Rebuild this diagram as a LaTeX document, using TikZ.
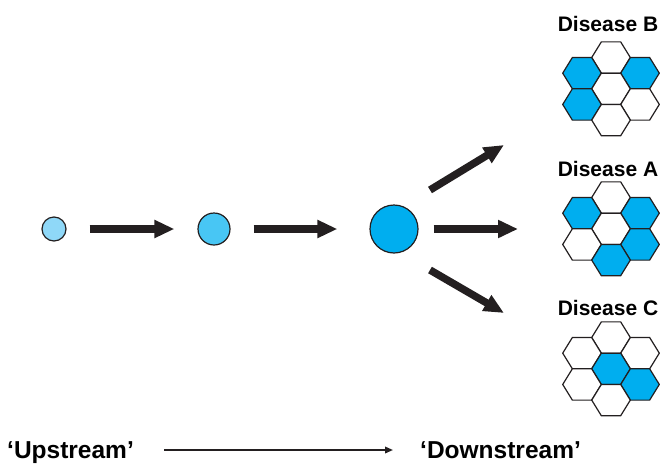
\documentclass[tikz,border=0pt]{standalone}
\usepackage{fontspec}
\setmainfont{Liberation Sans}
\usepackage{tikz}
\usetikzlibrary{arrows.meta}

\definecolor{cellblue}{RGB}{0,174,239}
\definecolor{dotlight}{RGB}{143,216,248}
\definecolor{dotmid}{RGB}{72,198,244}
\definecolor{ink}{RGB}{35,31,32}

% one hexagonal cell, centred at (#1,#2), filled with #3
\newcommand{\hexcell}[3]{%
  \filldraw[fill=#3, draw=ink, line width=1.2pt] (#1,#2)
    +(-19.3,0) -- +(-9.65,-15.65) -- +(9.65,-15.65) -- +(19.3,0)
    -- +(9.65,15.65) -- +(-9.65,15.65) -- cycle;}

\begin{document}
\begin{tikzpicture}[x=1pt, y=-1pt,
  dot/.style = {circle, draw=ink, line width=1.2pt, inner sep=0pt},
  fat/.style = {draw=ink, line width=7.5pt, -{Triangle[length=20pt,width=17pt]}},
  flow/.style = {draw=ink, line width=1.8pt, -{Triangle[length=8pt,width=6.5pt]}},
  disease/.style = {anchor=base, inner sep=0pt, font=\fontsize{21}{25}\selectfont\bfseries},
  stream/.style = {anchor=base west, inner sep=0pt, font=\fontsize{24.5}{29}\selectfont\bfseries}]
\useasboundingbox (0,0) rectangle (660,463);

\node[dot, fill=dotlight, minimum size=24pt] (small) at (54,229) {};
\node[dot, fill=dotmid, minimum size=32pt] (medium) at (214,229) {};
\node[dot, fill=cellblue, minimum size=48pt] (large) at (394,229) {};

\draw[fat, shorten <=23pt, shorten >=23pt] (small) -- (medium);
\draw[fat, shorten <=23pt, shorten >=32pt] (medium) -- (large);

\coordinate (upTail) at (430,190);
\coordinate (upHead) at (504,145);
\coordinate (midHead) at (518,229);
\coordinate (downTail) at (430,270);
\coordinate (downHead) at (504,313);

\draw[fat] (upTail) -- (upHead);
\draw[fat, shorten <=15pt] (large) -- (midHead);
\draw[fat] (downTail) -- (downHead);

\node[disease] (labB) at (608,31.5) {Disease B};
\node[disease] (labA) at (608,176) {Disease A};
\node[disease] (labC) at (608,315) {Disease C};

\begin{scope}[shift={(611,57.5)}]
\foreach \dx/\dy/\c in {0/0/white, -29/15.65/cellblue, 29/15.65/cellblue, 0/31.3/white,
    -29/46.95/cellblue, 29/46.95/white, 0/62.6/white}
  \hexcell{\dx}{\dy}{\c};
\end{scope}

\begin{scope}[shift={(611,197.5)}]
\foreach \dx/\dy/\c in {0/0/white, -29/15.65/cellblue, 29/15.65/cellblue, 0/31.3/white,
    -29/46.95/white, 29/46.95/cellblue, 0/62.6/cellblue}
  \hexcell{\dx}{\dy}{\c};
\end{scope}

\begin{scope}[shift={(611,337.5)}]
\foreach \dx/\dy/\c in {0/0/white, -29/15.65/white, 29/15.65/white, 0/31.3/cellblue,
    -29/46.95/white, 29/46.95/cellblue, 0/62.6/white}
  \hexcell{\dx}{\dy}{\c};
\end{scope}

\node[stream] (up) at (7,458) {‘Upstream’};
\node[stream] (down) at (420,458) {‘Downstream’};
\draw[flow] ([shift={(30pt,8pt)}]up.base east) -- ([shift={(-27pt,8pt)}]down.base west);

\end{tikzpicture}
\end{document}
